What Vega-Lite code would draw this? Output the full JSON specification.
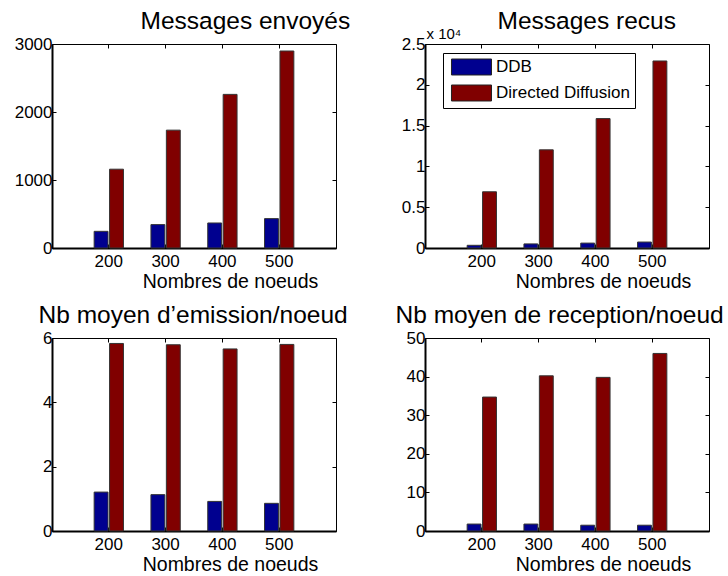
{
  "$schema": "https://vega.github.io/schema/vega-lite/v6.json",
  "padding": {"left": 13, "top": 7, "right": 0, "bottom": 0},
  "background": "white",
  "config": {
    "font": "Liberation Sans",
    "view": {"stroke": "black", "strokeWidth": 1},
    "axis": {"grid": false, "labelColor": "black", "titleColor": "black", "tickColor": "black", "domainColor": "black", "labelFont": "Liberation Sans", "titleFont": "Liberation Sans", "titleFontWeight": "normal", "titleLimit": 1000}
  },
  "datasets": {
    "d": [
      {"metric": "envoyes", "noeuds": "200", "serie": "DDB", "value": 245},
      {"metric": "envoyes", "noeuds": "300", "serie": "DDB", "value": 344},
      {"metric": "envoyes", "noeuds": "400", "serie": "DDB", "value": 368},
      {"metric": "envoyes", "noeuds": "500", "serie": "DDB", "value": 432},
      {"metric": "envoyes", "noeuds": "200", "serie": "Directed Diffusion", "value": 1159},
      {"metric": "envoyes", "noeuds": "300", "serie": "Directed Diffusion", "value": 1733},
      {"metric": "envoyes", "noeuds": "400", "serie": "Directed Diffusion", "value": 2259},
      {"metric": "envoyes", "noeuds": "500", "serie": "Directed Diffusion", "value": 2897},
      {"metric": "recus", "noeuds": "200", "serie": "DDB", "value": 330},
      {"metric": "recus", "noeuds": "300", "serie": "DDB", "value": 500},
      {"metric": "recus", "noeuds": "400", "serie": "DDB", "value": 600},
      {"metric": "recus", "noeuds": "500", "serie": "DDB", "value": 730},
      {"metric": "recus", "noeuds": "200", "serie": "Directed Diffusion", "value": 6890},
      {"metric": "recus", "noeuds": "300", "serie": "Directed Diffusion", "value": 12030},
      {"metric": "recus", "noeuds": "400", "serie": "Directed Diffusion", "value": 15860},
      {"metric": "recus", "noeuds": "500", "serie": "Directed Diffusion", "value": 22920},
      {"metric": "emission", "noeuds": "200", "serie": "DDB", "value": 1.21},
      {"metric": "emission", "noeuds": "300", "serie": "DDB", "value": 1.13},
      {"metric": "emission", "noeuds": "400", "serie": "DDB", "value": 0.92},
      {"metric": "emission", "noeuds": "500", "serie": "DDB", "value": 0.86},
      {"metric": "emission", "noeuds": "200", "serie": "Directed Diffusion", "value": 5.83},
      {"metric": "emission", "noeuds": "300", "serie": "Directed Diffusion", "value": 5.79},
      {"metric": "emission", "noeuds": "400", "serie": "Directed Diffusion", "value": 5.66},
      {"metric": "emission", "noeuds": "500", "serie": "Directed Diffusion", "value": 5.8},
      {"metric": "reception", "noeuds": "200", "serie": "DDB", "value": 1.8},
      {"metric": "reception", "noeuds": "300", "serie": "DDB", "value": 1.8},
      {"metric": "reception", "noeuds": "400", "serie": "DDB", "value": 1.5},
      {"metric": "reception", "noeuds": "500", "serie": "DDB", "value": 1.5},
      {"metric": "reception", "noeuds": "200", "serie": "Directed Diffusion", "value": 34.7},
      {"metric": "reception", "noeuds": "300", "serie": "Directed Diffusion", "value": 40.2},
      {"metric": "reception", "noeuds": "400", "serie": "Directed Diffusion", "value": 39.8},
      {"metric": "reception", "noeuds": "500", "serie": "Directed Diffusion", "value": 46.0}
    ]
  },
  "data": {"name": "d"},
  "columns": 2,
  "spacing": {"row": 90, "column": 89},
  "bounds": "flush",
  "resolve": {"scale": {"y": "independent", "x": "independent", "color": "independent", "xOffset": "independent"}, "legend": {"color": "independent"}},
  "concat": [
    {
      "width": 284, "height": 204,
      "transform": [{"filter": "datum.metric === 'envoyes'"}],
      "layer": [
        {
          "mark": {"type": "bar", "stroke": "#333", "strokeWidth": 1},
          "encoding": {
            "x": {"field": "noeuds", "type": "ordinal", "sort": ["200", "300", "400", "500"], "scale": {"paddingInner": 0.484, "paddingOuter": 0.742}, "axis": {"orient": "bottom", "labelAngle": 0, "labelFontSize": 17, "labelBaseline": "top", "tickSize": -4, "labelPadding": 9, "domainWidth": 2, "title": "Nombres de noeuds", "titleFontSize": 19.5, "titleBaseline": "alphabetic", "titleAlign": "center", "titleX": 178, "titleY": 39}},
            "xOffset": {"field": "serie", "type": "nominal", "scale": {"paddingInner": 0.1}},
            "y": {"field": "value", "type": "quantitative", "scale": {"domain": [0, 3000], "nice": false}, "axis": {"orient": "left", "values": [0, 1000, 2000, 3000], "format": "d", "labelFontSize": 17, "tickSize": -4, "labelPadding": 4, "domainWidth": 2, "title": null}},
            "color": {"field": "serie", "type": "nominal", "scale": {"domain": ["DDB", "Directed Diffusion"], "range": ["#00008F", "#800000"]}, "legend": null}
          }
        },
        {
          "mark": {"type": "bar", "opacity": 0},
          "encoding": {
            "x": {"field": "noeuds", "type": "ordinal", "sort": ["200", "300", "400", "500"], "axis": {"orient": "top", "labels": false, "tickSize": -4, "domain": false, "minExtent": 0, "maxExtent": 0, "title": "Messages envoyés", "titleFontSize": 24.5, "titleAlign": "left", "titleAnchor": "start", "titleBaseline": "alphabetic", "titleX": 88, "titleY": -16}},
            "y": {"field": "value", "type": "quantitative", "axis": {"orient": "right", "values": [0, 1000, 2000, 3000], "labels": false, "tickSize": -4, "domain": false, "minExtent": 0, "maxExtent": 0, "title": null}}
          }
        }
      ],
      "resolve": {"axis": {"x": "independent", "y": "independent"}}
    },
    {
      "width": 284, "height": 204,
      "transform": [{"filter": "datum.metric === 'recus'"}],
      "layer": [
        {
          "mark": {"type": "bar", "stroke": "#333", "strokeWidth": 1},
          "encoding": {
            "x": {"field": "noeuds", "type": "ordinal", "sort": ["200", "300", "400", "500"], "scale": {"paddingInner": 0.484, "paddingOuter": 0.742}, "axis": {"orient": "bottom", "labelAngle": 0, "labelFontSize": 17, "labelBaseline": "top", "tickSize": -4, "labelPadding": 9, "domainWidth": 2, "title": "Nombres de noeuds", "titleFontSize": 19.5, "titleBaseline": "alphabetic", "titleAlign": "center", "titleX": 178, "titleY": 39}},
            "xOffset": {"field": "serie", "type": "nominal", "scale": {"paddingInner": 0.1}},
            "y": {"field": "value", "type": "quantitative", "scale": {"domain": [0, 25000], "nice": false}, "axis": {"orient": "left", "values": [0, 5000, 10000, 15000, 20000, 25000], "labelExpr": "format(datum.value / 10000, '~g')", "labelFontSize": 17, "tickSize": -4, "labelPadding": 4, "domainWidth": 2, "title": "x 10⁴", "titleAngle": 0, "titleAlign": "left", "titleBaseline": "alphabetic", "titleX": 1, "titleY": -6, "titleFontSize": 15}},
            "color": {"field": "serie", "type": "nominal", "scale": {"domain": ["DDB", "Directed Diffusion"], "range": ["#00008F", "#800000"]}, "legend": {"title": null, "orient": "none", "legendX": 18, "legendY": 9, "strokeColor": "black", "fillColor": "white", "padding": 5, "symbolType": "M-0.65,-0.94H4.06V0.94H-0.65Z", "symbolSize": 289, "symbolStrokeColor": "#222", "symbolStrokeWidth": 1, "symbolOpacity": 1, "labelFontSize": 17, "labelColor": "black", "labelFont": "Liberation Sans", "labelOffset": 30, "rowPadding": 6, "labelLimit": 300}}
          }
        },
        {
          "mark": {"type": "bar", "opacity": 0},
          "encoding": {
            "x": {"field": "noeuds", "type": "ordinal", "sort": ["200", "300", "400", "500"], "axis": {"orient": "top", "labels": false, "tickSize": -4, "domain": false, "minExtent": 0, "maxExtent": 0, "title": "Messages recus", "titleFontSize": 24.5, "titleAlign": "left", "titleAnchor": "start", "titleBaseline": "alphabetic", "titleX": 72, "titleY": -16}},
            "y": {"field": "value", "type": "quantitative", "axis": {"orient": "right", "values": [0, 5000, 10000, 15000, 20000, 25000], "labels": false, "tickSize": -4, "domain": false, "minExtent": 0, "maxExtent": 0, "title": null}}
          }
        }
      ],
      "resolve": {"axis": {"x": "independent", "y": "independent"}}
    },
    {
      "width": 284, "height": 193,
      "transform": [{"filter": "datum.metric === 'emission'"}],
      "layer": [
        {
          "mark": {"type": "bar", "stroke": "#333", "strokeWidth": 1},
          "encoding": {
            "x": {"field": "noeuds", "type": "ordinal", "sort": ["200", "300", "400", "500"], "scale": {"paddingInner": 0.484, "paddingOuter": 0.742}, "axis": {"orient": "bottom", "labelAngle": 0, "labelFontSize": 17, "labelBaseline": "top", "tickSize": -4, "labelPadding": 9, "domainWidth": 2, "title": "Nombres de noeuds", "titleFontSize": 19.5, "titleBaseline": "alphabetic", "titleAlign": "center", "titleX": 178, "titleY": 39}},
            "xOffset": {"field": "serie", "type": "nominal", "scale": {"paddingInner": 0.1}},
            "y": {"field": "value", "type": "quantitative", "scale": {"domain": [0, 6], "nice": false}, "axis": {"orient": "left", "values": [0, 2, 4, 6], "labelFontSize": 17, "tickSize": -4, "labelPadding": 4, "domainWidth": 2, "title": null}},
            "color": {"field": "serie", "type": "nominal", "scale": {"domain": ["DDB", "Directed Diffusion"], "range": ["#00008F", "#800000"]}, "legend": null}
          }
        },
        {
          "mark": {"type": "bar", "opacity": 0},
          "encoding": {
            "x": {"field": "noeuds", "type": "ordinal", "sort": ["200", "300", "400", "500"], "axis": {"orient": "top", "labels": false, "tickSize": -4, "domain": false, "minExtent": 0, "maxExtent": 0, "title": "Nb moyen d’emission/noeud", "titleFontSize": 24.5, "titleAlign": "left", "titleAnchor": "start", "titleBaseline": "alphabetic", "titleX": -14, "titleY": -16}},
            "y": {"field": "value", "type": "quantitative", "axis": {"orient": "right", "values": [0, 2, 4, 6], "labels": false, "tickSize": -4, "domain": false, "minExtent": 0, "maxExtent": 0, "title": null}}
          }
        }
      ],
      "resolve": {"axis": {"x": "independent", "y": "independent"}}
    },
    {
      "width": 284, "height": 193,
      "transform": [{"filter": "datum.metric === 'reception'"}],
      "layer": [
        {
          "mark": {"type": "bar", "stroke": "#333", "strokeWidth": 1},
          "encoding": {
            "x": {"field": "noeuds", "type": "ordinal", "sort": ["200", "300", "400", "500"], "scale": {"paddingInner": 0.484, "paddingOuter": 0.742}, "axis": {"orient": "bottom", "labelAngle": 0, "labelFontSize": 17, "labelBaseline": "top", "tickSize": -4, "labelPadding": 9, "domainWidth": 2, "title": "Nombres de noeuds", "titleFontSize": 19.5, "titleBaseline": "alphabetic", "titleAlign": "center", "titleX": 178, "titleY": 39}},
            "xOffset": {"field": "serie", "type": "nominal", "scale": {"paddingInner": 0.1}},
            "y": {"field": "value", "type": "quantitative", "scale": {"domain": [0, 50], "nice": false}, "axis": {"orient": "left", "values": [0, 10, 20, 30, 40, 50], "labelFontSize": 17, "tickSize": -4, "labelPadding": 4, "domainWidth": 2, "title": null}},
            "color": {"field": "serie", "type": "nominal", "scale": {"domain": ["DDB", "Directed Diffusion"], "range": ["#00008F", "#800000"]}, "legend": null}
          }
        },
        {
          "mark": {"type": "bar", "opacity": 0},
          "encoding": {
            "x": {"field": "noeuds", "type": "ordinal", "sort": ["200", "300", "400", "500"], "axis": {"orient": "top", "labels": false, "tickSize": -4, "domain": false, "minExtent": 0, "maxExtent": 0, "title": "Nb moyen de reception/noeud", "titleFontSize": 24.5, "titleAlign": "left", "titleAnchor": "start", "titleBaseline": "alphabetic", "titleX": -30, "titleY": -16}},
            "y": {"field": "value", "type": "quantitative", "axis": {"orient": "right", "values": [0, 10, 20, 30, 40, 50], "labels": false, "tickSize": -4, "domain": false, "minExtent": 0, "maxExtent": 0, "title": null}}
          }
        }
      ],
      "resolve": {"axis": {"x": "independent", "y": "independent"}}
    }
  ]
}
